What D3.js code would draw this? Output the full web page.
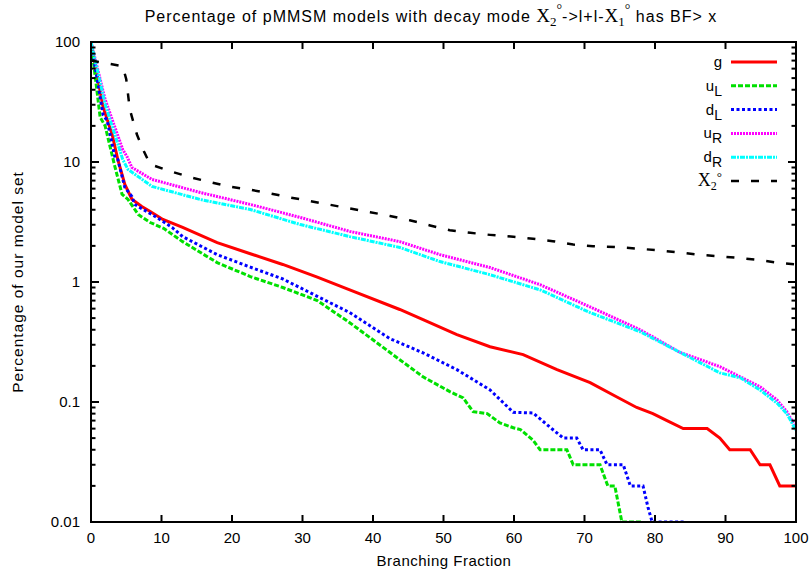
<!DOCTYPE html>
<html><head><meta charset="utf-8">
<script src="https://cdn.jsdelivr.net/npm/d3@7"></script>
<style>body{margin:0;background:#fff}svg{display:block}</style>
</head><body>
<svg id="c" width="812" height="571"></svg>
<script>
// ---- data (x = branching fraction %, y = percentage of models) ----
const xTicks = [0,10,20,30,40,50,60,70,80,90,100];
const yTicks = [0.01,0.1,1,10,100];
const yTickLabels = ["0.01","0.1","1","10","100"];

const gData = [[0,100],[1.7,29],[3,17],[3.8,10.5],[4.8,6.5],[5.8,4.9],[7.2,4.26],[8.4,3.87],[10.2,3.32],[13,2.85],[17.9,2.13],[22.6,1.72],[27.2,1.4],[32.1,1.1],[36.7,0.86],[43.8,0.59],[47.1,0.485],[51.9,0.364],[56.6,0.289],[61.3,0.248],[66.1,0.186],[70.8,0.145],[74.6,0.11],[77.4,0.09],[79.7,0.08],[81.7,0.07],[84,0.06],[87.4,0.06],[89.2,0.05],[90.6,0.04],[93.5,0.04],[94.9,0.03],[96.3,0.03],[97.7,0.02],[100,0.02]];
const uLData = [[0,100],[1.3,23.6],[2,20],[3.3,9.6],[4.4,5.4],[5.25,4.87],[6.7,3.65],[8.4,3.13],[10.3,2.8],[13,2.17],[17.9,1.45],[22.6,1.11],[27.2,0.9],[32.1,0.7],[36.7,0.458],[43.8,0.225],[47.1,0.162],[50.9,0.122],[52.8,0.108],[54.2,0.083],[56.2,0.08],[58,0.067],[59.9,0.061],[60.9,0.059],[62.7,0.048],[63.7,0.04],[67.5,0.04],[68.4,0.03],[72.2,0.03],[73.3,0.02],[74.3,0.02],[75.3,0.01],[78.2,0.01]];
const dLData = [[0,100],[1.7,24.9],[2.3,22],[3.4,10.9],[3.8,10.5],[4.8,6.14],[5.8,5.16],[6.2,4.43],[9.1,3.52],[11.5,2.85],[13,2.39],[17.9,1.69],[22.6,1.33],[27.2,1.06],[32.1,0.76],[36.7,0.556],[42.4,0.337],[47.1,0.257],[51.9,0.186],[56.6,0.126],[59.9,0.082],[62.7,0.081],[65.5,0.059],[67,0.05],[68.9,0.05],[69.8,0.04],[72.2,0.04],[73.2,0.03],[75.5,0.03],[76.5,0.02],[78.3,0.02],[79,0.0133],[79.6,0.01],[84.3,0.01]];
const uRData = [[0,100],[2,33.3],[4.5,12.7],[5.1,11.1],[5.8,9],[8.65,7.16],[15.5,5.57],[22.6,4.43],[29.7,3.45],[36.7,2.64],[43.8,2.17],[49.5,1.69],[56.6,1.32],[63.7,0.95],[70.8,0.62],[77.9,0.4],[83.5,0.26],[89.2,0.197],[92.1,0.162],[94.9,0.134],[97.3,0.104],[98.7,0.083],[100,0.061]];
const dRData = [[0,100],[2,30.3],[4.5,10.5],[5.25,8.68],[8.65,6.26],[15.5,4.87],[22.6,4.02],[29.7,3.01],[36.7,2.39],[43.8,1.94],[49.5,1.48],[56.6,1.15],[63.7,0.86],[70.8,0.556],[77.9,0.385],[83.5,0.26],[89.2,0.175],[92.1,0.159],[94.9,0.126],[97.3,0.098],[98.7,0.08],[100,0.058]];
const x2Data = [[0,70],[4.5,62.8],[5,49],[5.5,27.5],[6.5,17],[7.5,12.3],[8.4,9.55],[11.2,8.4],[14,7.48],[16.9,6.8],[19.7,6.22],[22.6,5.87],[25.4,5.47],[28.2,5.07],[31.1,4.72],[33.9,4.4],[36.7,4.1],[39.6,3.82],[42.4,3.55],[45.2,3.27],[48.1,2.96],[50.9,2.7],[53.8,2.57],[56.6,2.47],[59.9,2.38],[62.7,2.29],[65.5,2.19],[68.4,2.05],[71.2,1.99],[74.3,1.96],[77.4,1.9],[80.3,1.84],[83.1,1.77],[86.1,1.69],[88.9,1.64],[91.8,1.59],[94.9,1.52],[97.7,1.44],[100,1.4]];

const series = [
  {data:gData,  color:"#ff0000", dash:null,      width:3},
  {data:uLData, color:"#00e000", dash:"5,2",     width:3},
  {data:dLData, color:"#0000ff", dash:"3,2.5",   width:3},
  {data:uRData, color:"#ff00ff", dash:"2,1",     width:3},
  {data:dRData, color:"#00ffff", dash:"5,1,2,1", width:3},
  {data:x2Data, color:"#000000", dash:"8,12",    width:2.5}
];

const svg = d3.select("#c");
const L=91, R=796, T=42, B=522;
const x = d3.scaleLinear().domain([0,100]).range([L,R]);
const y = d3.scaleLog().domain([0.01,100]).range([B,T]);
const font = "'Liberation Sans', Arial, sans-serif";
const serif = "'Liberation Serif','Times New Roman',serif";

svg.append("defs").append("clipPath").attr("id","clip")
  .append("rect").attr("x",L).attr("y",T).attr("width",R-L).attr("height",B-T);

// curves
const line = d3.line().x(d=>x(d[0])).y(d=>y(d[1]));
const g = svg.append("g").attr("clip-path","url(#clip)");
series.forEach(s=>{
  g.append("path").attr("d",line(s.data)).attr("fill","none")
   .attr("stroke",s.color).attr("stroke-width",s.width)
   .attr("stroke-dasharray",s.dash).attr("stroke-linejoin","miter");
});

// frame
svg.append("rect").attr("x",L).attr("y",T).attr("width",R-L).attr("height",B-T)
  .attr("fill","none").attr("stroke","#000").attr("stroke-width",2);

// ticks (inward, mirrored)
const ax = svg.append("g").attr("stroke","#000").attr("stroke-width",2);
xTicks.forEach(v=>{
  ax.append("line").attr("x1",x(v)).attr("x2",x(v)).attr("y1",B).attr("y2",B-7);
  ax.append("line").attr("x1",x(v)).attr("x2",x(v)).attr("y1",T).attr("y2",T+7);
});
yTicks.forEach((v,i)=>{
  ax.append("line").attr("x1",L).attr("x2",L+8).attr("y1",y(v)).attr("y2",y(v));
  ax.append("line").attr("x1",R).attr("x2",R-8).attr("y1",y(v)).attr("y2",y(v));
  if(i<yTicks.length-1){
    for(let k=2;k<=9;k++){
      const m=v*k;
      ax.append("line").attr("x1",L).attr("x2",L+4.5).attr("y1",y(m)).attr("y2",y(m));
      ax.append("line").attr("x1",R).attr("x2",R-4.5).attr("y1",y(m)).attr("y2",y(m));
    }
  }
});

// tick labels
svg.append("g").selectAll("text").data(xTicks).join("text")
  .attr("x",d=>x(d)).attr("y",543).attr("text-anchor","middle")
  .attr("font-family",font).attr("font-size",15).text(d=>d);
svg.append("g").selectAll("text").data(yTicks).join("text")
  .attr("x",80).attr("y",d=>y(d)+5).attr("text-anchor","end")
  .attr("font-family",font).attr("font-size",15).text((d,i)=>yTickLabels[i]);

// axis labels
svg.append("text").attr("x",444).attr("y",566).attr("text-anchor","middle")
  .attr("font-family",font).attr("font-size",15).attr("letter-spacing",0.5).text("Branching Fraction");
svg.append("text").attr("transform","translate(23,282) rotate(-90)").attr("text-anchor","middle")
  .attr("font-family",font).attr("font-size",15.5).attr("letter-spacing",1).text("Percentage of our model set");

// title
const t = svg.append("text").attr("x",431).attr("y",22).attr("text-anchor","middle")
  .attr("font-family",font).attr("font-size",16).attr("letter-spacing",1.0);
t.append("tspan").text("Percentage of pMMSM models with decay mode ");
t.append("tspan").attr("font-family",serif).attr("font-size",19).attr("letter-spacing",0).text("X");
t.append("tspan").attr("font-family",serif).attr("font-size",13).attr("letter-spacing",0).attr("dy",4).text("2");
t.append("tspan").attr("font-family",serif).attr("font-size",14).attr("letter-spacing",0).attr("dy",-12).text("°");
t.append("tspan").attr("dy",8).text("->l+l-");
t.append("tspan").attr("font-family",serif).attr("font-size",19).attr("letter-spacing",0).text("X");
t.append("tspan").attr("font-family",serif).attr("font-size",13).attr("letter-spacing",0).attr("dy",4).text("1");
t.append("tspan").attr("font-family",serif).attr("font-size",14).attr("letter-spacing",0).attr("dy",-12).text("°");
t.append("tspan").attr("dy",8).text(" has BF> x");

// legend
const legY0 = 62, legDy = 23.8;
const legendNames = [["g",""],["u","L"],["d","L"],["u","R"],["d","R"]];
series.forEach((s,i)=>{
  const yy = legY0 + i*legDy;
  svg.append("line").attr("x1",731).attr("x2",777).attr("y1",yy).attr("y2",yy)
    .attr("stroke",s.color).attr("stroke-width",s.width).attr("stroke-dasharray",s.dash);
  const lt = svg.append("text").attr("x",722).attr("y",yy+5).attr("text-anchor","end")
    .attr("font-family",font).attr("font-size",15);
  if(i<5){
    lt.append("tspan").text(legendNames[i][0]);
    if(legendNames[i][1]) lt.append("tspan").attr("dy",5).attr("font-size",14).text(legendNames[i][1]);
  } else {
    lt.attr("font-family",serif);
    lt.append("tspan").attr("font-size",18).text("X");
    lt.append("tspan").attr("font-size",12).attr("dy",4).text("2");
    lt.append("tspan").attr("font-size",13).attr("dy",-9).text("°");
  }
});
</script>
</body></html>
